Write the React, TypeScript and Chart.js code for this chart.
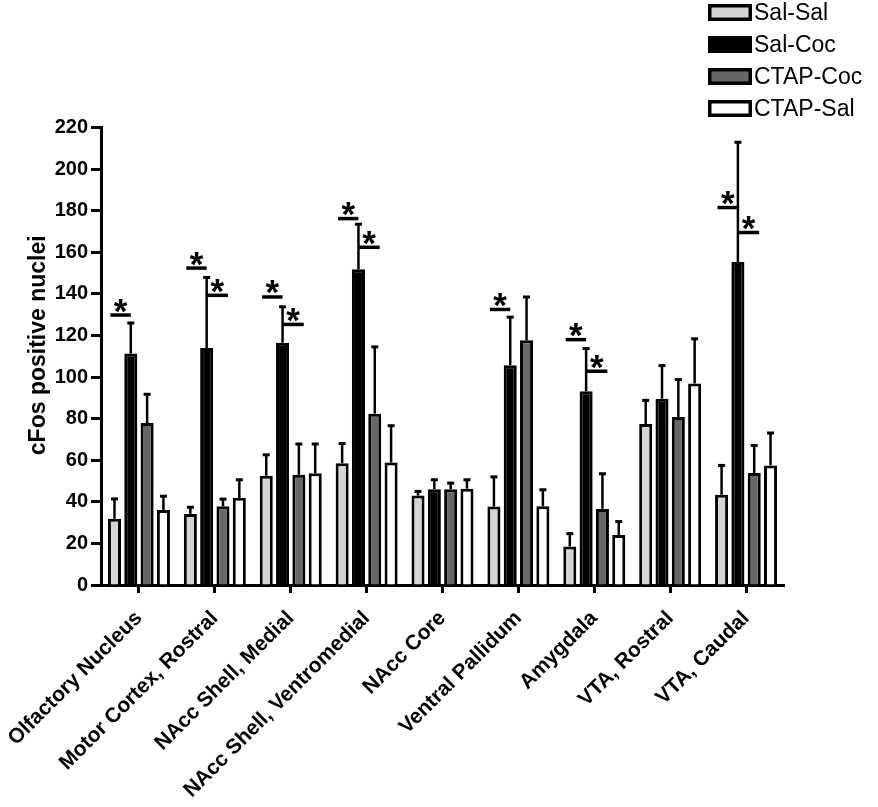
import React, { useEffect, useRef } from 'react';
import { Chart, registerables } from 'chart.js';

Chart.register(...registerables);

const FONT = '"Liberation Sans", Arial, Helvetica, sans-serif';

const categories = [
  'Olfactory Nucleus',
  'Motor Cortex, Rostral',
  'NAcc Shell, Medial',
  'NAcc Shell, Ventromedial',
  'NAcc Core',
  'Ventral Pallidum',
  'Amygdala',
  'VTA, Rostral',
  'VTA, Caudal',
];

const seriesNames = ['Sal-Sal', 'Sal-Coc', 'CTAP-Coc', 'CTAP-Sal'];
const seriesColors = ['#d4d4d4', '#000000', '#676767', '#ffffff'];

const salSal = [31.8, 34.2, 52.5, 58.6, 43.0, 37.7, 18.5, 77.4, 43.4];
const salSalSem = [9.6, 3.2, 10.1, 9.4, 2.0, 14.3, 6.2, 11.4, 14.1];
const salCoc = [111.3, 114.0, 116.5, 151.8, 46.1, 105.7, 93.2, 89.6, 155.3];
const salCocSem = [14.7, 33.9, 17.3, 21.7, 4.5, 23.1, 20.5, 15.9, 57.6];
const ctapCoc = [77.9, 37.9, 53.0, 82.4, 46.1, 117.7, 36.6, 80.8, 53.8];
const ctapCocSem = [13.8, 3.4, 14.8, 32.1, 2.9, 20.8, 16.9, 18.0, 13.3];
const ctapSal = [36.1, 41.9, 53.7, 58.9, 46.3, 37.9, 24.1, 96.9, 57.5];
const ctapSalSem = [6.6, 8.7, 14.1, 17.7, 4.3, 7.9, 6.4, 21.5, 15.6];

const yMin = 0;
const yMax = 220;
const yStep = 20;
const yTitle = 'cFos positive nuclei';

// significance markers (relative to the Sal-Coc bar of a category)
const sigCategory = [0, 1, 1, 2, 2, 3, 3, 5, 6, 6, 8, 8];
const sigLevel = [129.8, 152.4, 139.3, 138.5, 125.3, 176.2, 162.4, 132.5, 118.0, 102.8, 181.5, 169.5];
const sigSide = [-1, -1, 1, -1, 1, -1, 1, -1, -1, 1, -1, 1];

const errorBarPlugin = {
  id: 'errorBars',
  afterDatasetsDraw(chart: any) {
    const ctx = chart.ctx;
    const y = chart.scales.y;
    ctx.save();
    ctx.strokeStyle = '#000';
    chart.data.datasets.forEach((ds: any, i: number) => {
      const meta = chart.getDatasetMeta(i);
      meta.data.forEach((bar: any, j: number) => {
        const top = y.getPixelForValue(ds.data[j] + ds.errors[j]);
        ctx.lineWidth = 2.5;
        ctx.beginPath();
        ctx.moveTo(bar.x, bar.y);
        ctx.lineTo(bar.x, top);
        ctx.stroke();
        ctx.lineWidth = 3;
        ctx.beginPath();
        ctx.moveTo(bar.x - 3.5, top);
        ctx.lineTo(bar.x + 3.5, top);
        ctx.stroke();
      });
    });
    ctx.restore();
  },
};

const sigPlugin = {
  id: 'sigMarks',
  afterDatasetsDraw(chart: any) {
    const ctx = chart.ctx;
    const y = chart.scales.y;
    const m0 = chart.getDatasetMeta(0);
    const m1 = chart.getDatasetMeta(1);
    ctx.save();
    ctx.strokeStyle = '#000';
    ctx.fillStyle = '#000';
    ctx.lineWidth = 3.5;
    ctx.font = `bold 35px ${FONT}`;
    ctx.textAlign = 'center';
    ctx.textBaseline = 'alphabetic';
    const m = ctx.measureText('*');
    const inkHalf = (m.actualBoundingBoxAscent - m.actualBoundingBoxDescent) / 2;
    sigCategory.forEach((c, k) => {
      const x1 = m1.data[c].x;
      const d = x1 - m0.data[c].x;
      const xa = sigSide[k] < 0 ? x1 - 1.25 * d : x1;
      const xb = sigSide[k] < 0 ? x1 : x1 + 1.3 * d;
      const ly = y.getPixelForValue(sigLevel[k]);
      ctx.beginPath();
      ctx.moveTo(xa, ly);
      ctx.lineTo(xb, ly);
      ctx.stroke();
      ctx.fillText('*', (xa + xb) / 2, ly - 9.5 + inkHalf);
    });
    ctx.restore();
  },
};

const yTitlePlugin = {
  id: 'yTitle',
  afterDraw(chart: any) {
    const ctx = chart.ctx;
    const area = chart.chartArea;
    ctx.save();
    ctx.translate(39, (area.top + area.bottom) / 2 - 11);
    ctx.rotate(-Math.PI / 2);
    ctx.font = `bold 23px ${FONT}`;
    ctx.fillStyle = '#000';
    ctx.textAlign = 'center';
    ctx.textBaseline = 'middle';
    ctx.fillText(yTitle, 0, 0);
    ctx.restore();
  },
};

const legendPlugin = {
  id: 'boxLegend',
  afterDraw(chart: any) {
    const ctx = chart.ctx;
    const left = chart.width - 170;
    ctx.save();
    ctx.font = `23px ${FONT}`;
    ctx.textAlign = 'left';
    ctx.textBaseline = 'middle';
    chart.data.datasets.forEach((ds: any, i: number) => {
      const top = 4 + 32 * i;
      const w = 44;
      const h = 17;
      ctx.fillStyle = ds.backgroundColor;
      ctx.fillRect(left, top, w, h);
      ctx.strokeStyle = '#000';
      ctx.lineWidth = 3.5;
      ctx.strokeRect(left + 1.75, top + 1.75, w - 3.5, h - 3.5);
      ctx.fillStyle = '#000';
      ctx.fillText(ds.label, left + w + 2, top + h / 2 + 1);
    });
    ctx.restore();
  },
};

export default function App() {
  const canvasRef = useRef<HTMLCanvasElement>(null);

  useEffect(() => {
    document.body.style.margin = '0';
    const canvas = canvasRef.current;
    if (!canvas) return;
    const values = [salSal, salCoc, ctapCoc, ctapSal];
    const sems = [salSalSem, salCocSem, ctapCocSem, ctapSalSem];
    const chart = new Chart(canvas, {
      type: 'bar',
      data: {
        labels: categories,
        datasets: seriesNames.map((name, i) => ({
          label: name,
          data: values[i],
          errors: sems[i],
          backgroundColor: seriesColors[i],
          borderColor: '#000',
          borderWidth: 3,
          borderSkipped: 'bottom',
          categoryPercentage: 0.86,
          barPercentage: 0.8,
        })) as any,
      },
      options: {
        responsive: false,
        animation: false,
        devicePixelRatio: 1,
        layout: { padding: { top: 127.5, right: 94, left: 0, bottom: 0 } },
        plugins: {
          legend: { display: false },
          tooltip: { enabled: false },
        },
        scales: {
          x: {
            offset: true,
            grid: {
              display: true,
              drawOnChartArea: false,
              offset: false,
              tickLength: 8,
              tickWidth: 3,
              tickColor: '#000',
            },
            border: { display: true, color: '#000', width: 3 },
            ticks: {
              autoSkip: false,
              minRotation: 45,
              maxRotation: 45,
              color: '#000',
              padding: 13,
              font: { family: FONT, size: 21, weight: 'bold' },
            },
            afterFit: (scale: any) => {
              scale.height = 222;
              scale.paddingLeft = 0;
              scale.paddingRight = 0;
            },
          },
          y: {
            min: yMin,
            max: yMax,
            grid: {
              display: true,
              drawOnChartArea: false,
              tickLength: 10,
              tickWidth: 3,
              tickColor: '#000',
            },
            border: { display: true, color: '#000', width: 3 },
            ticks: {
              stepSize: yStep,
              color: '#000',
              padding: 3,
              font: { family: FONT, size: 20, weight: 'bold' },
            },
            title: { display: false, text: yTitle },
            afterFit: (scale: any) => {
              scale.width = 101;
              scale.paddingTop = 0;
              scale.paddingBottom = 0;
            },
          },
        },
      } as any,
      plugins: [errorBarPlugin, sigPlugin, yTitlePlugin, legendPlugin],
    });
    return () => chart.destroy();
  }, []);

  return (
    <div style={{ width: 878, height: 807 }}>
      <canvas ref={canvasRef} width={878} height={807} style={{ display: 'block' }} />
    </div>
  );
}
